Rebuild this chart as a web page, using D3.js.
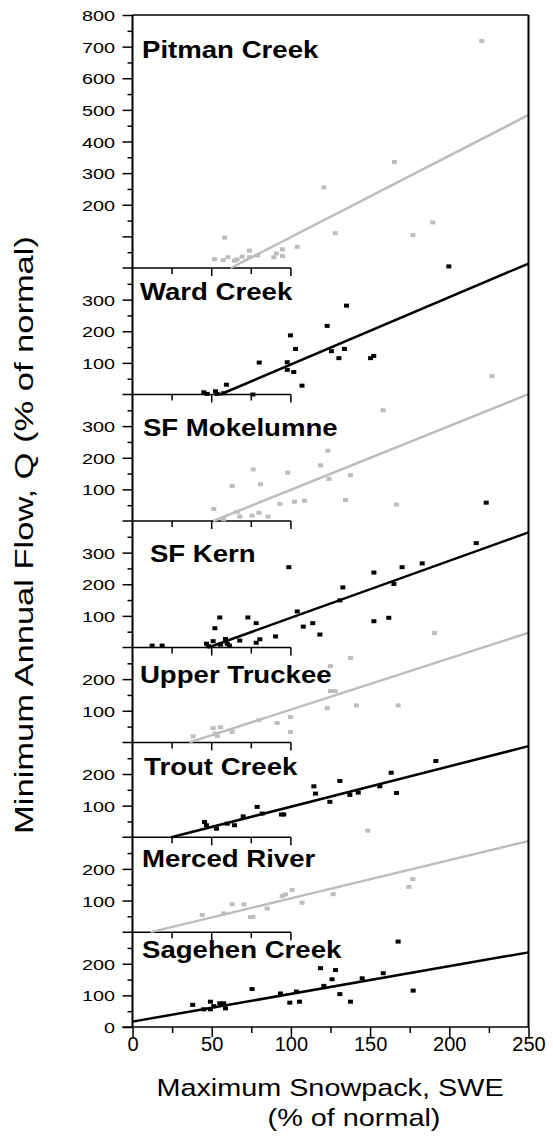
<!DOCTYPE html>
<html>
<head>
<meta charset="utf-8">
<script src="https://cdn.jsdelivr.net/npm/d3@7"></script>
<style>
  html, body { margin: 0; padding: 0; background: #fff; }
  svg { display: block; font-family: Arial, "Liberation Sans", sans-serif; }
</style>
</head>
<body>
<div id="chart"></div>
<script>
// panels, top to bottom
const panelNames = ['Pitman Creek', 'Ward Creek', 'SF Mokelumne', 'SF Kern',
  'Upper Truckee', 'Trout Creek', 'Merced River', 'Sagehen Creek'];
const panelRange = [800, 400, 400, 400, 300, 300, 300, 300];
const panelColor = ['grey', 'black', 'grey', 'black', 'grey', 'black', 'grey', 'black'];

// y tick labels per panel
const yLabels = [
  [200, 300, 400, 500, 600, 700, 800],
  [100, 200, 300],
  [100, 200, 300],
  [100, 200, 300],
  [100, 200],
  [100, 200],
  [100, 200],
  [0, 100, 200]
];
const xLabels = [0, 50, 100, 150, 200, 250];

// regression fits: Q = slope * SWE + intercept
const fitSlope = [2.574, 2.127, 2.015, 1.8, 1.62, 1.277, 1.207, 0.876];
const fitIntercept = [-159.6, -117.7, -102.8, -86, -58.3, -31.2, -13.8, 17];

// observations [SWE %, Q %]
const pitman = [[51.8,28],[57.2,25],[58.1,96],[60.2,34],[64.4,23],[66,27],[69.2,36],[73.9,55],
  [73.9,34],[79.1,40],[89.2,34],[90.9,46],[94.7,59],[94.7,38],[104,67],[120.8,255],[128,110],
  [165.4,335],[177,104],[189.6,144],[220.5,718]];
const ward = [[45,7],[47.1,2],[52.4,10],[53.5,2],[57.6,4],[59.3,31],[76,0],[80,101],[97.7,102],
  [97.7,78],[99.7,187],[102.9,144],[101.8,71],[107,28],[122.9,217],[125.6,137],[130.3,115],
  [135.1,281],[133.8,144],[150.3,115],[152.3,122],[199.7,405]];
const mokelumne = [[51.3,38],[57.6,5],[62.9,111],[66.1,29],[67.8,14],[75.6,17],[76.2,163],[79.8,26],
  [80.8,116],[85.6,14],[93,54],[98,153],[102.3,61],[108.6,64],[118.7,176],[123.3,222],[124,133],
  [134.5,66],[137.6,145],[158.3,350],[166.7,52],[227,458]];
const kern = [[12.4,6],[18.7,6],[46.7,12],[48,4],[50.9,20],[52,61],[55.1,95],[55.6,9],[58.7,27],
  [59.8,12],[61.2,6],[67.7,22],[72.8,95],[78.1,77],[78.1,15],[80.4,26],[90.3,35],[98.7,254],
  [104,114],[107.8,66],[113.8,77],[118.3,41],[130.9,149],[132.8,190],[152.4,237],[152.4,83],
  [161.8,94],[165,201],[170.2,254],[182.9,266],[217,330],[223.3,458]];
const truckee = [[38.3,19],[50.9,45],[52.4,28],[53.5,20],[55.6,48],[62.9,33],[79.8,70],[91.3,61],
  [99.7,80],[99.7,33],[122.9,108],[125,241],[125,162],[128,162],[137.6,267],[141.4,117],
  [167.7,117],[190.7,346]];
const trout = [[45.5,48],[46.7,38],[53,27],[59.8,43],[64.4,38],[69.9,66],[78.7,96],[81.9,75],[94,72],
  [95.5,72],[114.5,161],[115.5,138],[124.6,112],[130.9,178],[137.2,134],[142.5,141],[156.1,161],
  [163.3,204],[166.7,140],[191.5,241]];
const merced = [[44,54],[57.6,59],[62.9,88],[70.3,88],[74.5,48],[76,48],[85,75],[94.5,114],[96.6,119],
  [100.8,133],[107,93],[126.7,120],[148.6,321],[174.5,143],[177,168]];
const sagehen = [[38,70],[45,56],[49.2,80],[49.2,56],[51.3,66],[55.1,75],[57.6,75],[58.7,59],
  [75.5,120],[93.4,106],[99.3,77],[103.5,112],[105.4,80],[118.7,186],[120.8,130],[126,151],
  [128.2,180],[130.9,104],[137.6,80],[145,154],[158.3,170],[167.7,270],[177.2,115]];
const panelData = [pitman, ward, mokelumne, kern, truckee, trout, merced, sagehen];

// label placement inside each panel, in data units [SWE, Q]
const titlePos = [[6,665],[4.7,299],[6.6,269],[11,271],[4.7,188],[7.3,197],[6,206],[6,218]];

const colors = { grey: '#bdbdbd', black: '#000' };

const width = 553, height = 1136;
const svg = d3.select('#chart').append('svg')
  .attr('width', width).attr('height', height);

const x = d3.scaleLinear().domain([0, 250]).range([132.5, 528.5]);

// one stacked scale for the whole column, each panel gets an offset
const total = d3.sum(panelRange);
const yAll = d3.scaleLinear().domain([0, total]).range([1027, 15]);
const offsets = panelRange.map((r, i) => d3.sum(panelRange.slice(i + 1)));
const yScales = panelRange.map((r, i) =>
  d3.scaleLinear().domain([0, r]).range([yAll(offsets[i]), yAll(offsets[i] + r)]));

const lineColor = '#000';

panelNames.forEach((name, i) => {
  const y = yScales[i];
  const col = colors[panelColor[i]];
  const g = svg.append('g');

  // y ticks: major every 100, minor at 50s
  const top = panelRange[i];
  const majors = d3.range(100, top + 1, 100).filter(v => i === 0 || v < top);
  const minors = d3.range(50, top, 100);

  g.append('g')
    .attr('transform', `translate(${x(0)},0)`)
    .call(d3.axisLeft(y).tickValues(minors).tickSize(5).tickFormat(''))
    .call(a => a.select('.domain').remove())
    .call(a => a.selectAll('line').attr('stroke-width', 1.5));

  g.append('g')
    .attr('transform', `translate(${x(0)},0)`)
    .call(d3.axisLeft(y).tickValues(majors.concat(i === 7 ? [0] : [])).tickSize(10)
      .tickFormat(d => yLabels[i].includes(d) ? d : ''))
    .call(a => a.select('.domain').remove())
    .call(a => a.selectAll('line').attr('stroke-width', 1.5))
    .call(a => a.selectAll('text')
      .attr('x', -17.5 / 1.28).attr('dy', '0.36em')
      .attr('transform', 'scale(1.28,1)')
      .attr('font-size', 15.5).attr('fill', '#000'));

  // zero line of each stacked panel (bottom one is the x axis)
  if (i < 7) {
    g.append('line')
      .attr('x1', x(0) - 10).attr('x2', x(100))
      .attr('y1', y(0)).attr('y2', y(0))
      .attr('stroke', lineColor).attr('stroke-width', 1.5);
    g.selectAll('.bt').data([25, 50, 75, 100]).enter().append('line')
      .attr('x1', d => x(d)).attr('x2', d => x(d))
      .attr('y1', y(0)).attr('y2', d => y(0) + (d % 50 === 0 ? 8 : 6))
      .attr('stroke', lineColor).attr('stroke-width', 1.5);
  }

  // regression line, starting where it crosses zero
  const m = fitSlope[i], b = fitIntercept[i];
  const x0 = Math.max(0, -b / m);
  const line = d3.line().x(d => x(d[0])).y(d => y(d[1]));
  g.append('path')
    .datum([[x0, m * x0 + b], [250, m * 250 + b]])
    .attr('d', line)
    .attr('fill', 'none')
    .attr('stroke', col)
    .attr('stroke-width', 2.5);

  // points
  g.selectAll('rect.pt').data(panelData[i]).enter().append('rect')
    .attr('class', 'pt')
    .attr('x', d => x(d[0]) - 2.5)
    .attr('y', d => y(d[1]) - 2)
    .attr('width', 5)
    .attr('height', 4)
    .attr('fill', col);

  // panel title
  const tx = x(titlePos[i][0]), ty = y(titlePos[i][1]);
  g.append('text')
    .attr('transform', `translate(${tx},${ty}) scale(1.2,1)`)
    .attr('font-size', 23)
    .attr('font-weight', 'bold')
    .attr('fill', '#000')
    .text(name);
});

// frame: left axis, top, right
svg.append('line')
  .attr('x1', x(0)).attr('x2', x(0)).attr('y1', yAll(total)).attr('y2', yAll(0))
  .attr('stroke', lineColor).attr('stroke-width', 2);
svg.append('line')
  .attr('x1', x(0)).attr('x2', x(250)).attr('y1', yAll(total)).attr('y2', yAll(total))
  .attr('stroke', lineColor).attr('stroke-width', 1.5);
svg.append('line')
  .attr('x1', x(250)).attr('x2', x(250)).attr('y1', yAll(total)).attr('y2', yAll(0))
  .attr('stroke', lineColor).attr('stroke-width', 2);

// bottom x axis
const xAxis = svg.append('g').attr('transform', `translate(0,${yAll(0)})`);
xAxis.append('g')
  .call(d3.axisBottom(x).tickValues([25, 75, 125, 175, 225]).tickSize(6).tickFormat(''))
  .call(a => a.select('.domain').remove())
  .call(a => a.selectAll('line').attr('stroke-width', 1.5));
xAxis.append('g')
  .call(d3.axisBottom(x).tickValues(xLabels).tickSize(10).tickPadding(6))
  .call(a => a.select('.domain').remove())
  .call(a => a.selectAll('line').attr('stroke-width', 1.5))
  .call(a => a.selectAll('text').attr('font-size', 20).attr('fill', '#000')
    .attr('y', 24).attr('dy', 0));
xAxis.append('line')
  .attr('x1', x(0) - 10).attr('x2', x(250))
  .attr('stroke', lineColor).attr('stroke-width', 1.5);

// axis titles
svg.append('text')
  .attr('transform', 'translate(330,1096) scale(1.2,1)')
  .attr('text-anchor', 'middle').attr('font-size', 24)
  .text('Maximum Snowpack, SWE');
svg.append('text')
  .attr('transform', 'translate(354,1126) scale(1.2,1)')
  .attr('text-anchor', 'middle').attr('font-size', 24)
  .text('(% of normal)');
svg.append('text')
  .attr('transform', 'translate(33,535) rotate(-90) scale(1.38,1)')
  .attr('text-anchor', 'middle').attr('font-size', 25)
  .text('Minimum Annual Flow, Q (% of normal)');
</script>
</body>
</html>
